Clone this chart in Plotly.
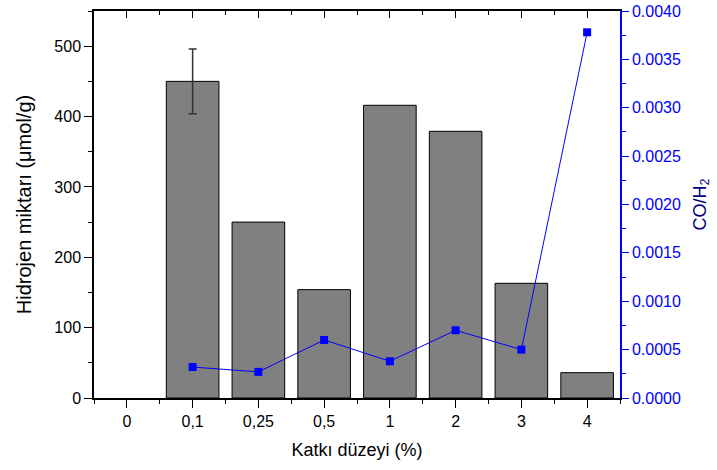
import plotly.graph_objects as go

categories = ["0", "0,1", "0,25", "0,5", "1", "2", "3", "4"]
hydrogen = [None, 450, 250, 154, 416, 379, 163, 36]
hydrogen_err = [None, 46, None, None, None, None, None, None]
co_h2 = [None, 0.00032, 0.00027, 0.00060, 0.00038, 0.00070, 0.00050, 0.00378]
left_ticks = [0, 100, 200, 300, 400, 500]
right_ticks = [0, 0.0005, 0.001, 0.0015, 0.002, 0.0025, 0.003, 0.0035, 0.004]

pos = list(range(len(categories)))
bounds = [p - 0.5 for p in pos] + [pos[-1] + 0.5]
FONT = "Liberation Sans, Arial, sans-serif"

err_idx = [i for i, e in enumerate(hydrogen_err) if e is not None]

fig = go.Figure()
fig.add_trace(go.Bar(
    x=pos, y=hydrogen, width=0.8,
    marker=dict(color="#808080", line=dict(color="black", width=1)),
    showlegend=False, yaxis="y", xaxis="x", hoverinfo="y",
))
fig.add_trace(go.Scatter(
    x=[pos[i] for i in err_idx], y=[hydrogen[i] for i in err_idx],
    mode="markers", marker=dict(opacity=0, size=1),
    error_y=dict(type="data", array=[hydrogen_err[i] for i in err_idx], visible=True,
                 color="#333333", thickness=1.5, width=4),
    showlegend=False, hoverinfo="skip", yaxis="y", xaxis="x",
))
fig.add_trace(go.Scatter(
    x=pos, y=co_h2, mode="lines+markers",
    line=dict(color="#0000ff", width=1),
    marker=dict(symbol="square", size=8, color="#0000ff"),
    yaxis="y2", xaxis="x", showlegend=False,
))
# invisible trace to anchor the top tick axis
fig.add_trace(go.Scatter(x=[pos[0]], y=[0], xaxis="x2", yaxis="y",
                         mode="markers", marker=dict(opacity=0),
                         showlegend=False, hoverinfo="skip"))

fig.update_layout(
    width=717, height=470,
    margin=dict(l=94, r=97, t=11, b=72),
    plot_bgcolor="white", paper_bgcolor="white",
    font=dict(family=FONT, size=16, color="black"),
    xaxis=dict(
        range=[-0.5, len(categories) - 0.5], automargin=False,
        tickmode="array", tickvals=pos, ticktext=categories,
        ticks="outside", ticklen=8, tickwidth=1, tickcolor="black",
        minor=dict(tickmode="array", tickvals=bounds, ticks="outside",
                   ticklen=4, tickcolor="black"),
        showline=True, linecolor="black", linewidth=1.5,
        showgrid=False, zeroline=False,
        title=dict(text="Katkı düzeyi (%)", font=dict(size=18), standoff=14),
        tickfont=dict(size=16),
    ),
    xaxis2=dict(
        overlaying="x", side="top", anchor="y", automargin=False,
        range=[-0.5, len(categories) - 0.5],
        tickmode="array", tickvals=pos, ticktext=[""] * len(pos),
        ticks="inside", ticklen=7, tickcolor="black",
        minor=dict(tickmode="array", tickvals=bounds, ticks="inside",
                   ticklen=4, tickcolor="black"),
        showline=True, linecolor="black", linewidth=1.5,
        showgrid=False, zeroline=False, showticklabels=False,
    ),
    yaxis=dict(
        range=[0, 550], automargin=False,
        tickmode="array", tickvals=left_ticks,
        ticks="outside", ticklen=8, tickcolor="black",
        minor=dict(dtick=50, tick0=0, ticks="outside", ticklen=4, tickcolor="black"),
        showline=True, linecolor="black", linewidth=1.5,
        showgrid=False, zeroline=False,
        title=dict(text="Hidrojen miktarı (μmol/g)", font=dict(size=20), standoff=17),
        tickfont=dict(size=16),
    ),
    yaxis2=dict(
        overlaying="y", side="right", anchor="x", automargin=False,
        range=[0, 0.004],
        tickmode="array", tickvals=right_ticks, tickformat=".4f",
        ticks="outside", ticklen=7, tickcolor="#0000ff",
        minor=dict(dtick=0.00025, tick0=0, ticks="outside", ticklen=4, tickcolor="#0000ff"),
        showline=True, linecolor="#0000ff", linewidth=1.5,
        showgrid=False, zeroline=False,
        tickfont=dict(size=16, color="#0000ff"),
        title=dict(text="CO/H<sub>2</sub>", font=dict(size=18, color="#000080"), standoff=13),
    ),
)

fig.write_html("out.html", config={"displayModeBar": False},
               post_script="document.body.style.margin='0';")
